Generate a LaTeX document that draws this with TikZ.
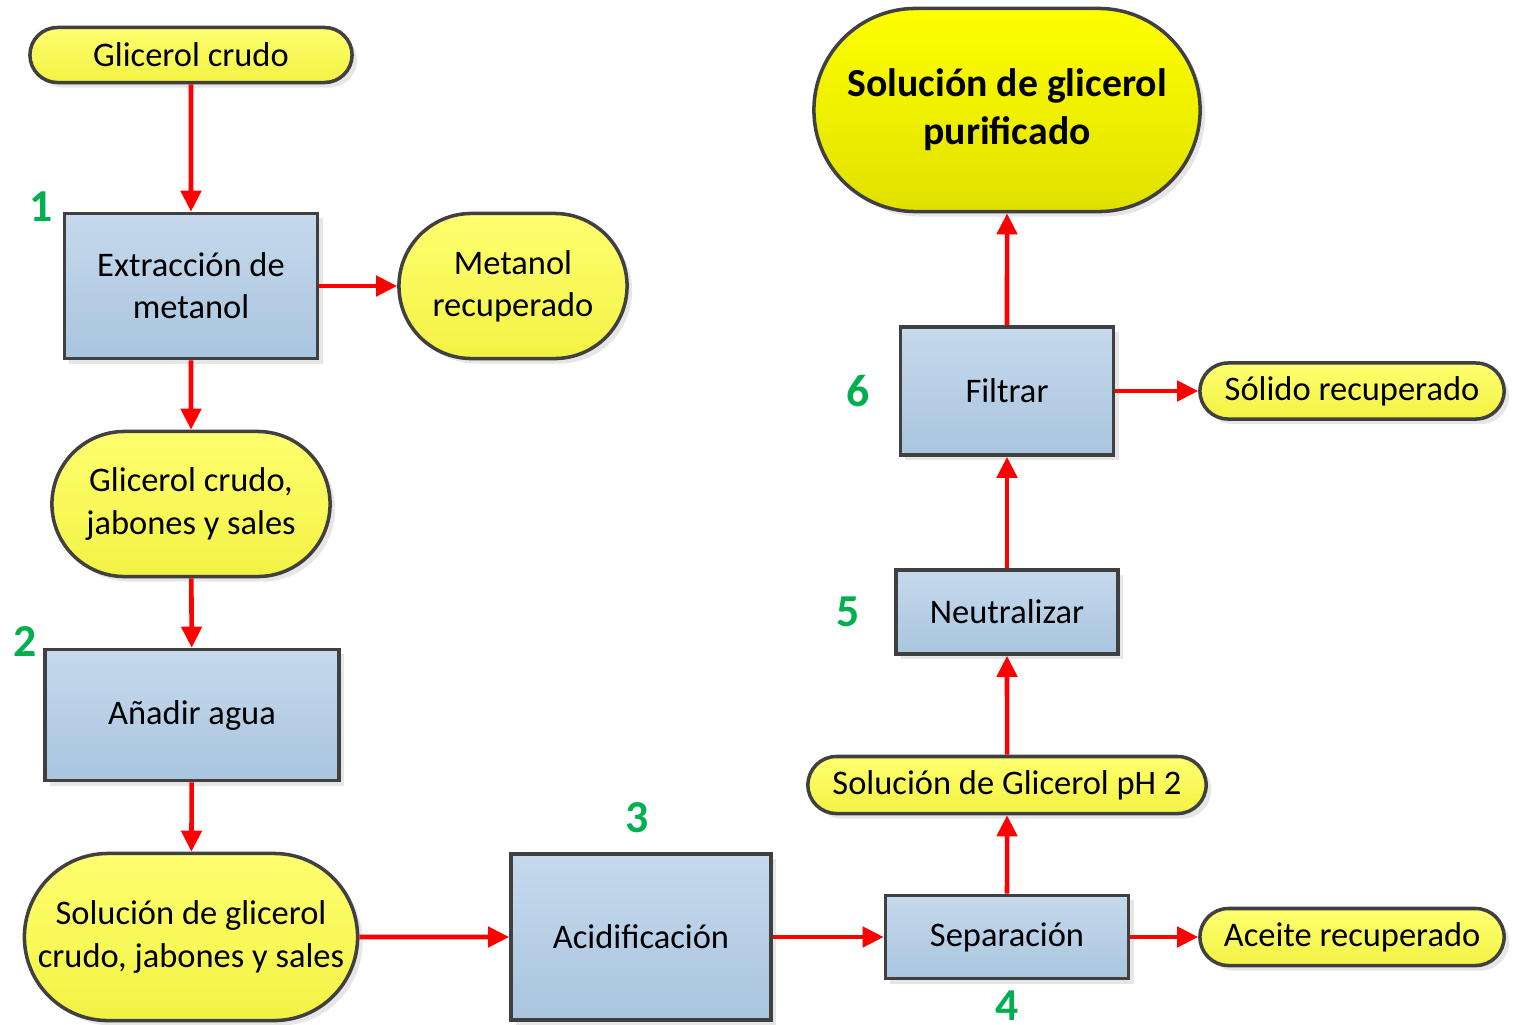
\documentclass[tikz,border=0pt]{standalone}
\usepackage{fontspec}
\setmainfont{Carlito}
\usepackage{xcolor}
\usepackage{tikz}
\usetikzlibrary{arrows.meta,shapes.misc,shadows}

\definecolor{boxtop}{HTML}{C6D9EC}
\definecolor{boxbot}{HTML}{A9C5DF}
\definecolor{termtop}{HTML}{FFFF70}
\definecolor{termbot}{HTML}{F2F244}
\definecolor{edge}{HTML}{404040}
\definecolor{numgreen}{HTML}{00B050}

\begin{document}
\begin{tikzpicture}[x=0.01cm, y=-0.01cm,
    every node/.style={font=\fontsize{9.8}{12}\selectfont, align=center, inner sep=0pt},
    proc/.style={rectangle, draw=edge, line width=1pt, top color=boxtop, bottom color=boxbot,
        drop shadow={shadow xshift=0.5mm, shadow yshift=-0.5mm, opacity=0.2}},
    term/.style={rounded rectangle, draw=edge, line width=1pt, top color=termtop, bottom color=termbot,
        drop shadow={shadow xshift=0.5mm, shadow yshift=-0.5mm, opacity=0.2}},
    num/.style={font=\fontsize{13}{15}\selectfont\bfseries, text=numgreen},
    flow/.style={draw=red, line width=1.3pt, -{Triangle[length=2.1mm, width=2mm]}}]
    \useasboundingbox (0,0) rectangle (1516,1024);
    \node[term, minimum width=3.22cm, minimum height=0.55cm] (crudo) at (191,55) {Glicerol crudo};
    \node[proc, minimum width=2.53cm, minimum height=1.45cm] (extr) at (191,286) {Extracción de\\metanol};
    \node[term, minimum width=2.28cm, minimum height=1.45cm] (metanol) at (513,286) {Metanol\\recuperado};
    \node[term, minimum width=2.78cm, minimum height=1.45cm] (jabones) at (191,504) {Glicerol crudo,\\jabones y sales};
    \node[proc, minimum width=2.94cm, minimum height=1.31cm] (agua) at (192,715) {Añadir agua};
    \node[term, minimum width=3.33cm, minimum height=1.67cm] (solcrudo) at (191,937) {Solución de glicerol\\crudo, jabones y sales};
    \node[proc, minimum width=2.60cm, minimum height=1.66cm] (acid) at (641,937) {Acidificación};
    \node[proc, minimum width=2.43cm, minimum height=0.83cm] (sep) at (1007,937) {Separación};
    \node[term, minimum width=3.04cm, minimum height=0.57cm] (aceite) at (1352,937) {Aceite recuperado};
    \node[term, minimum width=3.98cm, minimum height=0.57cm] (ph) at (1007,785) {Solución de Glicerol pH 2};
    \node[proc, minimum width=2.22cm, minimum height=0.84cm] (neutr) at (1007,612) {Neutralizar};
    \node[proc, minimum width=2.13cm, minimum height=1.28cm] (filtrar) at (1007,391) {Filtrar};
    \node[term, minimum width=3.04cm, minimum height=0.56cm] (solido) at (1352,391) {Sólido recuperado};
    \node[term, minimum width=3.86cm, minimum height=2.03cm, top color=yellow, bottom color=yellow!88!black,
        font=\fontsize{11.3}{13.6}\selectfont\bfseries] (puro) at (1007,110) {Solución de glicerol\\purificado};
    \node[num] (n1) at (41,207) {1};
    \node[num] (n2) at (25,641) {2};
    \node[num] (n3) at (637,818) {3};
    \node[num] (n4) at (1007,1006) {4};
    \node[num] (n5) at (848,612) {5};
    \node[num] (n6) at (858,391) {6};
    \draw[flow] (crudo) -- (extr);
    \draw[flow] (extr) -- (metanol);
    \draw[flow] (extr) -- (jabones);
    \draw[flow] (jabones) -- (agua);
    \draw[flow] (agua) -- (solcrudo);
    \draw[flow] (solcrudo) -- (acid);
    \draw[flow] (acid) -- (sep);
    \draw[flow] (sep) -- (aceite);
    \draw[flow] (sep) -- (ph);
    \draw[flow] (ph) -- (neutr);
    \draw[flow] (neutr) -- (filtrar);
    \draw[flow] (filtrar) -- (solido);
    \draw[flow] (filtrar) -- (puro);
\end{tikzpicture}
\end{document}
